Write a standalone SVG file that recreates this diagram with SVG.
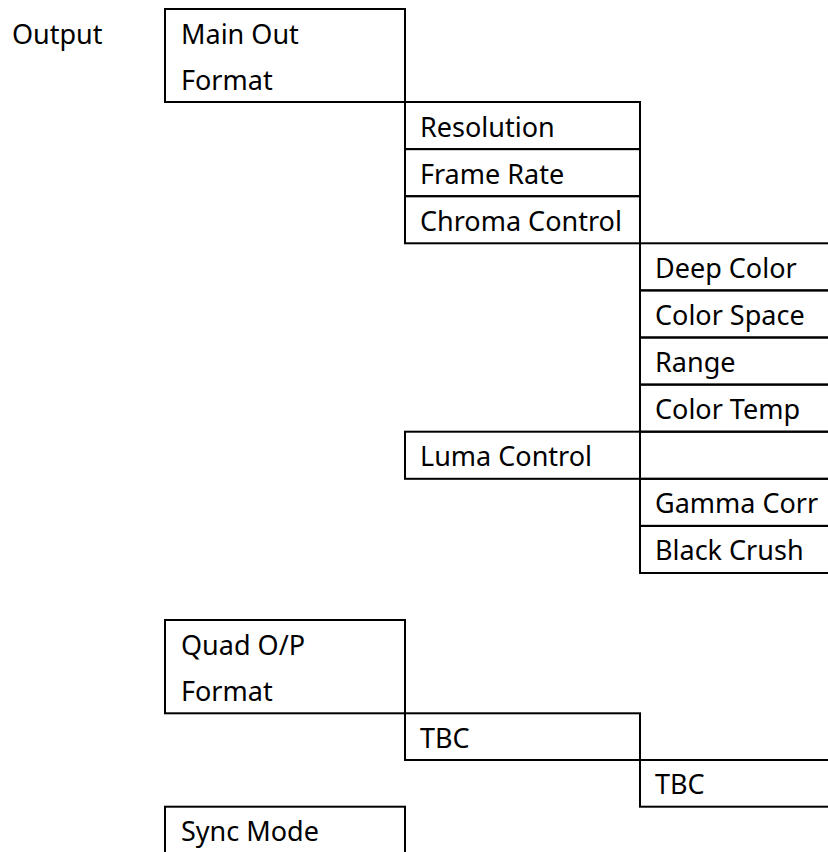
<svg xmlns="http://www.w3.org/2000/svg" width="828" height="852" viewBox="0 0 828 852">
<style>
.cell{fill:none;stroke:#000;stroke-width:2}
.t{font-family:"Noto Sans","Open Sans","DejaVu Sans",sans-serif;font-size:27px;fill:#000}
</style>
<rect width="828" height="852" fill="#fff"/>
<g id="connectors"></g>
<g id="output"><text class="t" x="12" y="44">Output</text></g>
<g id="main-out-format"><rect class="cell" x="165" y="9" width="240" height="93"/><text class="t" x="181" y="44">Main Out</text><text class="t" x="181" y="90">Format</text></g>
<g id="resolution"><rect class="cell" x="405" y="102" width="235" height="47.1"/><text class="t" x="420" y="136.5">Resolution</text></g>
<g id="frame-rate"><rect class="cell" x="405" y="149.1" width="235" height="47.1"/><text class="t" x="420" y="183.6">Frame Rate</text></g>
<g id="chroma-control"><rect class="cell" x="405" y="196.2" width="235" height="47.1"/><text class="t" x="420" y="230.7">Chroma Control</text></g>
<g id="deep-color"><rect class="cell" x="640" y="243.3" width="200" height="47.1"/><text class="t" x="655" y="277.8">Deep Color</text></g>
<g id="color-space"><rect class="cell" x="640" y="290.4" width="200" height="47.1"/><text class="t" x="655" y="324.9">Color Space</text></g>
<g id="range"><rect class="cell" x="640" y="337.5" width="200" height="47.1"/><text class="t" x="655" y="372">Range</text></g>
<g id="color-temp"><rect class="cell" x="640" y="384.6" width="200" height="47.1"/><text class="t" x="655" y="419.1">Color Temp</text></g>
<g id="luma-control"><rect class="cell" x="405" y="431.7" width="235" height="47.1"/><text class="t" x="420" y="466.2">Luma Control</text></g>
<g id="luma-empty"><rect class="cell" x="640" y="431.7" width="200" height="47.1"/></g>
<g id="gamma-corr"><rect class="cell" x="640" y="478.8" width="200" height="47.1"/><text class="t" x="655" y="513.3">Gamma Corr</text></g>
<g id="black-crush"><rect class="cell" x="640" y="525.9" width="200" height="47.1"/><text class="t" x="655" y="560.4">Black Crush</text></g>
<g id="quad-op-format"><rect class="cell" x="165" y="620" width="240" height="93.3"/><text class="t" x="181" y="654.5">Quad O/P</text><text class="t" x="181" y="701">Format</text></g>
<g id="tbc-1"><rect class="cell" x="405" y="713.3" width="235" height="46.7"/><text class="t" x="420" y="747.5">TBC</text></g>
<g id="tbc-2"><rect class="cell" x="640" y="760" width="200" height="46.7"/><text class="t" x="655" y="794.2">TBC</text></g>
<g id="sync-mode"><rect class="cell" x="165" y="806.7" width="240" height="60"/><text class="t" x="181" y="841">Sync Mode</text></g>
</svg>
